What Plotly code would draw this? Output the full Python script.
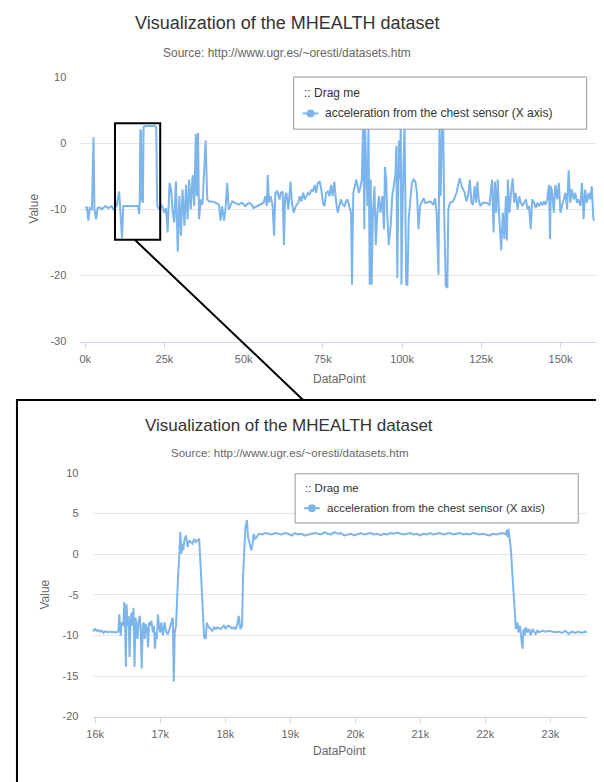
import plotly.graph_objects as go

# target picture size and the default 8px page margin of the html body
W, H = 604, 782
OFF = 8
FW, FH = W - OFF, H - OFF


def px(x):
    return (x - OFF) / FW


def py(y):
    return 1 - (y - OFF) / FH


FONT = "Liberation Sans, Arial, Helvetica, sans-serif"
LINE_COLOR = "#7cb5ec"

title_text = "Visualization of the MHEALTH dataset"
subtitle_text = "Source: http://www.ugr.es/~oresti/datasets.htm"
series_name = "acceleration from the chest sensor (X axis)"
legend_title = ":: Drag me"
x_title = "DataPoint"
y_title = "Value"

# ---------------- overview series (whole recording) ----------------
top_x = [0, 500, 1000, 1400, 2100, 2600, 2900, 3400, 3900, 4500, 5200, 6300, 7300, 8300,
         8900, 9900, 10700, 11100, 11600, 12000, 13000, 14100, 15600, 16700, 17000, 17200,
         17400, 17600, 17800, 18200, 18400, 19000, 20000, 21000, 22000, 22400, 22700,
         23400, 24000, 24500, 25000, 25500, 26000, 26600, 27100, 27600, 28100, 28600, 29200,
         29700, 30200, 30700, 31300, 31800, 32300, 32800, 33300, 33900, 34400, 34900, 35200,
         35600, 35900, 36500, 37000, 38000, 38500, 39100, 40100, 41100, 42200, 42700, 43200,
         43800, 44300, 44800, 45300, 46400, 47400, 48400, 49500, 50500, 51600, 52600,
         53100, 54200, 55200, 56300, 56800, 57300, 57600, 58000, 58500, 59100, 59600, 60000,
         60600, 61300, 61700, 62300, 62700, 63100, 63500, 64100, 64800, 65200, 65800, 66500,
         67200, 67700, 68200, 68800, 69300, 69800, 70300, 70800, 71400, 71900, 72400, 72900,
         73400, 74000, 74500, 75000, 75500, 76000, 76600, 77100, 77600, 78100, 78600, 79200,
         79700, 80200, 80700, 81300, 81800, 82300, 82800, 83300, 83900, 84200, 84600, 85100,
         85600, 86300, 86700, 87300, 87700, 88100, 88300, 88800, 89100, 89400, 89800, 90100,
         90400, 90800, 91300, 91700, 92200, 92700, 93200, 93800, 94300, 94600, 95000, 95300,
         95800, 96400, 96900, 97400, 97900, 98200, 98500, 99000, 99300, 99600, 99800, 100200,
         100600, 100800, 101300, 101700, 102100, 102600, 103100, 103600, 104200, 104700,
         105200, 105700, 106300, 106800, 107300,
         107800, 108900, 109900, 110400, 110900, 111500, 111800, 112200, 112600, 113000,
         113300, 113800, 114300, 114600, 115100, 116100, 117200, 117700, 118200, 118800,
         119300, 119800, 120300, 120800, 121400, 121900, 122400, 122900, 123400, 123800,
         124200, 124700, 125500, 126600, 127600, 128400, 128900, 129300, 129700, 130200,
         130700, 131300, 131800, 132300, 132800, 133100, 133400, 133900, 134400, 134900,
         135400, 135900, 136500, 137000, 137500, 138000, 138500, 139100, 139600, 140100,
         140600, 141100, 141700, 142200, 142700, 143200, 143800, 144300, 144800, 145300,
         145800, 146400, 146700, 147000, 147400, 147900, 148400, 149000, 149500, 150000,
         150500, 151000, 151600, 152100, 152600, 153100, 153600, 154200, 154700, 155200,
         155700, 156300, 156800, 157300, 157800, 158300, 158900, 159400, 159900, 160400,
         160700]
top_y = [-9.8, -9.7, -11.7, -9.8, -10.0, 0.9, -10.0, -11.5, -9.8, -9.7, -10.0, -9.5, -9.8, -9.5,
         -10.0, -9.5, -7.3, -10.0, -14.4, -9.5, -9.5, -9.4, -9.5, -9.5, -10.7, -8.5,
         2.1, 1.8, -8.5, -9.0, 2.5, 2.6, 2.6, 2.6, 2.6, 2.4, -9.5,
         -10.0, -9.3, -9.8, -10.5, -9.8, -13.5, -6.0, -7.0, -10.5, -12.0, -5.8, -16.4,
         -8.0, -14.0, -7.0, -12.5, -6.3, -11.5, -5.5, -10.0, -4.8, -9.5, 1.4, -8.0,
         1.6, -11.5, -8.5, -9.3, 0.4, -8.5, -8.8, -8.8, -9.0, -9.3, -11.7, -9.5,
         -11.7, -9.8, -6.0, -10.0, -8.8, -9.0, -9.3, -9.0, -9.5, -9.0, -9.3,
         -9.8, -9.5, -9.3, -9.0, -8.0, -9.5, -4.8, -9.0, -8.0, -9.3, -14.0, -7.5,
         -7.3, -8.5, -7.5, -7.3, -15.4, -8.0, -7.5, -10.0, -5.8, -9.0, -10.5, -9.5,
         -9.0, -8.0, -8.8, -7.5, -8.5, -8.0, -7.5, -7.8, -7.0, -7.3, -6.3, -7.5,
         -6.0, -5.8, -7.0, -9.0, -9.5, -7.5, -7.3, -8.0, -6.3, -8.0, -5.8, -9.0,
         -10.5, -9.5, -8.5, -9.3, -9.5, -8.8, -8.5, -9.5, -10.5, -21.4, -7.5, -6.5,
         -5.5, -7.5, -7.0, -5.5, 3.0, -13.0, 3.2, -5.5, -9.5, 3.0, -21.4, -5.5,
         -21.4, -10.5, -6.5, -15.4, -10.5, -8.0, -10.5, -8.0, -13.0, -3.6, -5.5, -10.5,
         -15.4, -12.5, -8.0, -6.5, -4.6, -0.4, -20.4, 0.4, -5.5, 3.0, -21.4, -8.0,
         -0.4, 3.0, -21.4, -21.4, -11.5, -8.0, -6.0, -5.5, -5.8, -7.5,
         -13.0, -9.5, -8.8, -8.3, -9.0,
         -9.0, -8.8, -9.3, -8.3, -10.5, -19.9, 2.5, -8.0, 2.5, 2.5,
         -10.5, -21.6, -21.9, -10.0, -9.0, -8.8, -7.5, -6.3, -5.3, -6.5,
         -7.0, -7.5, -8.8, -8.0, -5.5, -9.0, -9.3, -6.5, -9.0, -5.8,
         -8.5, -9.5, -9.0, -9.0, -9.3, -5.5, -13.5, -5.8, -10.5, -5.5,
         -11.5, -16.2, -10.5, -14.5, -8.0, -14.7, -5.5, -10.5, -7.5, -5.3,
         -9.0, -7.5, -10.0, -8.0, -9.0, -9.5, -9.0, -8.5, -10.0, -9.5,
         -13.0, -8.5, -9.0, -9.8, -9.0, -9.5, -9.0, -9.3, -8.8, -9.3,
         -8.5, -6.3, -14.5, -6.5, -7.5, -10.5, -6.3, -8.5, -6.0, -10.5,
         -9.5, -8.5, -7.5, -10.0, -4.1, -9.0, -7.0, -8.5, -7.5, -9.0,
         -8.5, -9.5, -6.0, -11.5, -7.0, -9.0, -7.5, -8.5, -6.5, -11.5,
         -11.7]

# ---------------- zoomed series (16k - 23.6k) ----------------
zoom_x = [15950, 15975, 16000, 16025, 16050, 16075, 16100, 16125, 16150, 16180, 16205, 16230,
          16255, 16280, 16330, 16355, 16371, 16391, 16406, 16431, 16447, 16462, 16472, 16482,
          16497, 16513, 16528, 16543, 16558, 16573, 16589, 16604, 16619, 16634, 16650, 16665,
          16685, 16700, 16715, 16731, 16746, 16761, 16776, 16797, 16812, 16827, 16847, 16863,
          16888, 16903, 16918, 16934, 16949, 16964, 16979, 17000, 17015, 17040, 17066, 17091,
          17116, 17142, 17167, 17193, 17208, 17223, 17243, 17258, 17274, 17294, 17309, 17324,
          17340, 17355, 17370, 17395, 17421, 17446, 17472, 17497, 17522, 17548, 17573, 17598,
          17624, 17649, 17674, 17700, 17715, 17730, 17751, 17776, 17801, 17827, 17852, 17877,
          17903, 17928, 17954, 17979, 18004, 18030, 18055, 18081, 18106, 18131, 18157, 18182,
          18207, 18233, 18258, 18273, 18288, 18309, 18334, 18349, 18370, 18385, 18400, 18420,
          18436, 18461, 18486, 18512, 18563, 18613, 18664, 18715, 18765, 18816, 18867, 18918,
          18968, 19019, 19070, 19121, 19171, 19222, 19273, 19324, 19374, 19425, 19476, 19527,
          19577, 19628, 19679, 19730, 19780, 19830, 19881, 19932, 19983, 20033, 20084, 20135,
          20186, 20236, 20287, 20338, 20389, 20439, 20490, 20541, 20592, 20642, 20693, 20744,
          20795, 20845, 20896, 20947, 20998, 21048, 21099, 21150, 21200, 21251, 21302, 21353,
          21403, 21454, 21505, 21556, 21606, 21657, 21708, 21759, 21809, 21860, 21911, 21962,
          22012, 22063, 22114, 22165, 22215, 22266, 22317, 22327, 22342, 22357, 22373, 22393,
          22418, 22444, 22469, 22494, 22510, 22530, 22550, 22571, 22586, 22606, 22621, 22647,
          22672, 22697, 22723, 22748, 22773, 22799, 22824, 22875, 22926, 22976, 23027, 23078,
          23129, 23179, 23230, 23281, 23332, 23382, 23433, 23484, 23535, 23575]
zoom_y = [-9.30, -9.42, -9.22, -9.46, -9.34, -9.54, -9.42, -9.70, -9.50, -9.54, -9.62, -9.54,
          -9.62, -9.58, -9.62, -9.54, -7.40, -10.02, -8.41, -8.81, -5.90, -10.02, -13.86, -6.18,
          -8.81, -7.60, -12.65, -8.41, -7.19, -8.81, -6.59, -13.86, -7.80, -8.81, -10.43, -8.41,
          -7.60, -9.62, -14.07, -8.81, -8.41, -10.43, -8.61, -9.22, -11.44, -8.41, -8.81, -8.21,
          -9.62, -8.81, -11.64, -9.62, -10.43, -7.40, -8.81, -9.62, -8.41, -10.02, -8.41, -9.62,
          -9.82, -9.22, -8.41, -7.80, -15.68, -9.62, -8.81, -4.77, -2.75, 0.08, 2.71, 0.08,
          1.29, 0.49, 1.70, 2.30, 0.89, 1.70, 1.50, 1.29, 1.90, 1.50, 1.70, 1.90,
          -1.94, -6.79, -10.23, -10.43, -8.41, -8.81, -9.01, -9.22, -9.42, -9.01, -9.22, -9.01,
          -9.14, -9.22, -9.01, -8.81, -9.14, -8.89, -8.81, -9.01, -9.14, -9.01, -9.22, -8.81,
          -7.60, -9.22, -8.81, -2.75, 0.89, 3.31, 4.20, 2.10, 1.50, 0.89, 0.49, 1.29,
          2.51, 1.90, 2.10, 2.51, 2.43, 2.59, 2.51, 2.43, 2.59, 2.51, 2.43, 2.59,
          2.51, 2.30, 2.59, 2.43, 2.51, 2.30, 2.43, 2.51, 2.59, 2.51, 2.43, 2.71,
          2.51, 2.43, 2.71, 2.51, 2.59, 2.30, 2.43, 2.51, 2.30, 2.43, 2.59, 2.43,
          2.51, 2.59, 2.43, 2.51, 2.34, 2.51, 2.43, 2.59, 2.51, 2.67, 2.51, 2.43,
          2.51, 2.59, 2.43, 2.51, 2.30, 2.51, 2.43, 2.59, 2.43, 2.51, 2.59, 2.43,
          2.51, 2.59, 2.43, 2.51, 2.59, 2.43, 2.51, 2.43, 2.59, 2.51, 2.43, 2.51,
          2.43, 2.30, 2.51, 2.43, 2.51, 2.59, 2.43, 2.99, 2.10, 3.11, 1.90, 0.49,
          -2.75, -6.79, -9.22, -8.41, -9.62, -8.81, -10.02, -11.64, -9.22, -10.02, -9.01, -9.62,
          -9.22, -10.02, -9.22, -9.62, -9.82, -9.42, -9.62, -9.42, -9.54, -9.42, -9.54, -9.62,
          -9.54, -9.70, -9.42, -9.82, -9.54, -9.70, -9.54, -9.70, -9.54, -9.62]

# ---------------- axis ticks ----------------
top_xticks = [0, 25000, 50000, 75000, 100000, 125000, 150000]
top_xlabels = ["0k", "25k", "50k", "75k", "100k", "125k", "150k"]
top_yticks = [-30, -20, -10, 0, 10]
top_ylabels = ["-30", "-20", "-10", "0", "10"]
zoom_xticks = [16000, 17000, 18000, 19000, 20000, 21000, 22000, 23000]
zoom_xlabels = ["16k", "17k", "18k", "19k", "20k", "21k", "22k", "23k"]
zoom_yticks = [-20, -15, -10, -5, 0, 5, 10]
zoom_ylabels = ["-20", "-15", "-10", "-5", "0", "5", "10"]

fig = go.Figure()
fig.add_trace(go.Scatter(x=top_x, y=top_y, mode="lines", name=series_name,
                         line=dict(color=LINE_COLOR, width=2), xaxis="x", yaxis="y",
                         showlegend=False, hoverinfo="x+y"))
fig.add_trace(go.Scatter(x=zoom_x, y=zoom_y, mode="lines", name=series_name,
                         line=dict(color=LINE_COLOR, width=2), xaxis="x2", yaxis="y2",
                         showlegend=False, hoverinfo="x+y"))

tickfont = dict(family=FONT, size=11, color="#666666")

xaxis_common = dict(showgrid=False, zeroline=False, showline=True, linecolor="#ccd6eb",
                    linewidth=1, ticks="outside", ticklen=5, tickcolor="#ccd6eb",
                    tickfont=tickfont, fixedrange=True, ticklabelstandoff=2)
yaxis_common = dict(showgrid=True, gridcolor="#e6e6e6", gridwidth=1, zeroline=False,
                    showline=False, ticks="", tickfont=tickfont, fixedrange=True,
                    ticklabelstandoff=13)

fig.update_layout(
    width=FW, height=FH,
    margin=dict(l=0, r=0, t=0, b=0),
    paper_bgcolor="white", plot_bgcolor="white",
    font=dict(family=FONT),
    showlegend=False,
    xaxis=dict(domain=[px(75), px(598)], range=[-1562, 161875], tickvals=top_xticks,
               ticktext=top_xlabels, anchor="y", **xaxis_common),
    yaxis=dict(domain=[py(340.7), py(72)], range=[-30, 10.02], tickvals=top_yticks,
               ticktext=top_ylabels, anchor="x", **yaxis_common),
    xaxis2=dict(domain=[px(87.3), px(586.7)], range=[15958, 23561], tickvals=zoom_xticks,
                ticktext=zoom_xlabels, anchor="y2", **xaxis_common),
    yaxis2=dict(domain=[py(721.7), py(474)], range=[-20, 10.02], tickvals=zoom_yticks,
                ticktext=zoom_ylabels, anchor="x2", **yaxis_common),
)

shapes = []
annotations = []


def text(x, y, s, size, color="#333333", xanchor="center", angle=0):
    annotations.append(dict(x=px(x), y=py(y), xref="paper", yref="paper", text=s,
                            showarrow=False, xanchor=xanchor, yanchor="middle",
                            textangle=angle,
                            font=dict(family=FONT, size=size, color=color)))


def legend(x0, y0, x1, y1, title_y, item_y, size):
    shapes.append(dict(type="rect", xref="paper", yref="paper", x0=px(x0), x1=px(x1),
                       y0=py(y1), y1=py(y0), line=dict(color="#999999", width=1),
                       fillcolor="white", layer="above"))
    text(x0 + 8, title_y, legend_title, size, xanchor="left")
    shapes.append(dict(type="line", xref="paper", yref="paper", x0=px(x0 + 9), x1=px(x0 + 25),
                       y0=py(item_y), y1=py(item_y), line=dict(color=LINE_COLOR, width=2),
                       layer="above"))
    shapes.append(dict(type="circle", xref="paper", yref="paper", x0=px(x0 + 13), x1=px(x0 + 21),
                       y0=py(item_y + 4), y1=py(item_y - 4), line=dict(color=LINE_COLOR, width=0),
                       fillcolor=LINE_COLOR, layer="above"))
    text(x0 + 30, item_y, series_name, size, xanchor="left")


# top chart texts
text(284, 17, title_text, 18)
text(284, 48, subtitle_text, 12, color="#666666")
text(337, 379, x_title, 12, color="#666666")
text(28, 206, y_title, 12, color="#666666", angle=-90)
legend(290.5, 72, 586.5, 125, 88, 109, 12)

# bottom chart texts
text(286, 426, title_text, 17)
text(286, 454, subtitle_text, 11.5, color="#666666")
text(337, 757, x_title, 12, color="#666666")
text(39, 598, y_title, 12, color="#666666", angle=-90)
legend(292, 475, 578, 525, 489, 510, 11.5)

# highlight box, connector and zoom frame
shapes.append(dict(type="rect", xref="paper", yref="paper", x0=px(110), x1=px(155.7),
                   y0=py(237.3), y1=py(119), line=dict(color="black", width=2), layer="above"))
shapes.append(dict(type="line", xref="paper", yref="paper", x0=px(130), y0=py(237.3),
                   x1=px(300), y1=py(400), line=dict(color="black", width=2), layer="above"))
shapes.append(dict(type="rect", xref="paper", yref="paper", x0=px(11), x1=px(597.5),
                   y0=py(795), y1=py(400), line=dict(color="black", width=2), layer="above"))

fig.update_layout(shapes=shapes, annotations=annotations)
fig.write_html("out.html", config={"displayModeBar": False})
